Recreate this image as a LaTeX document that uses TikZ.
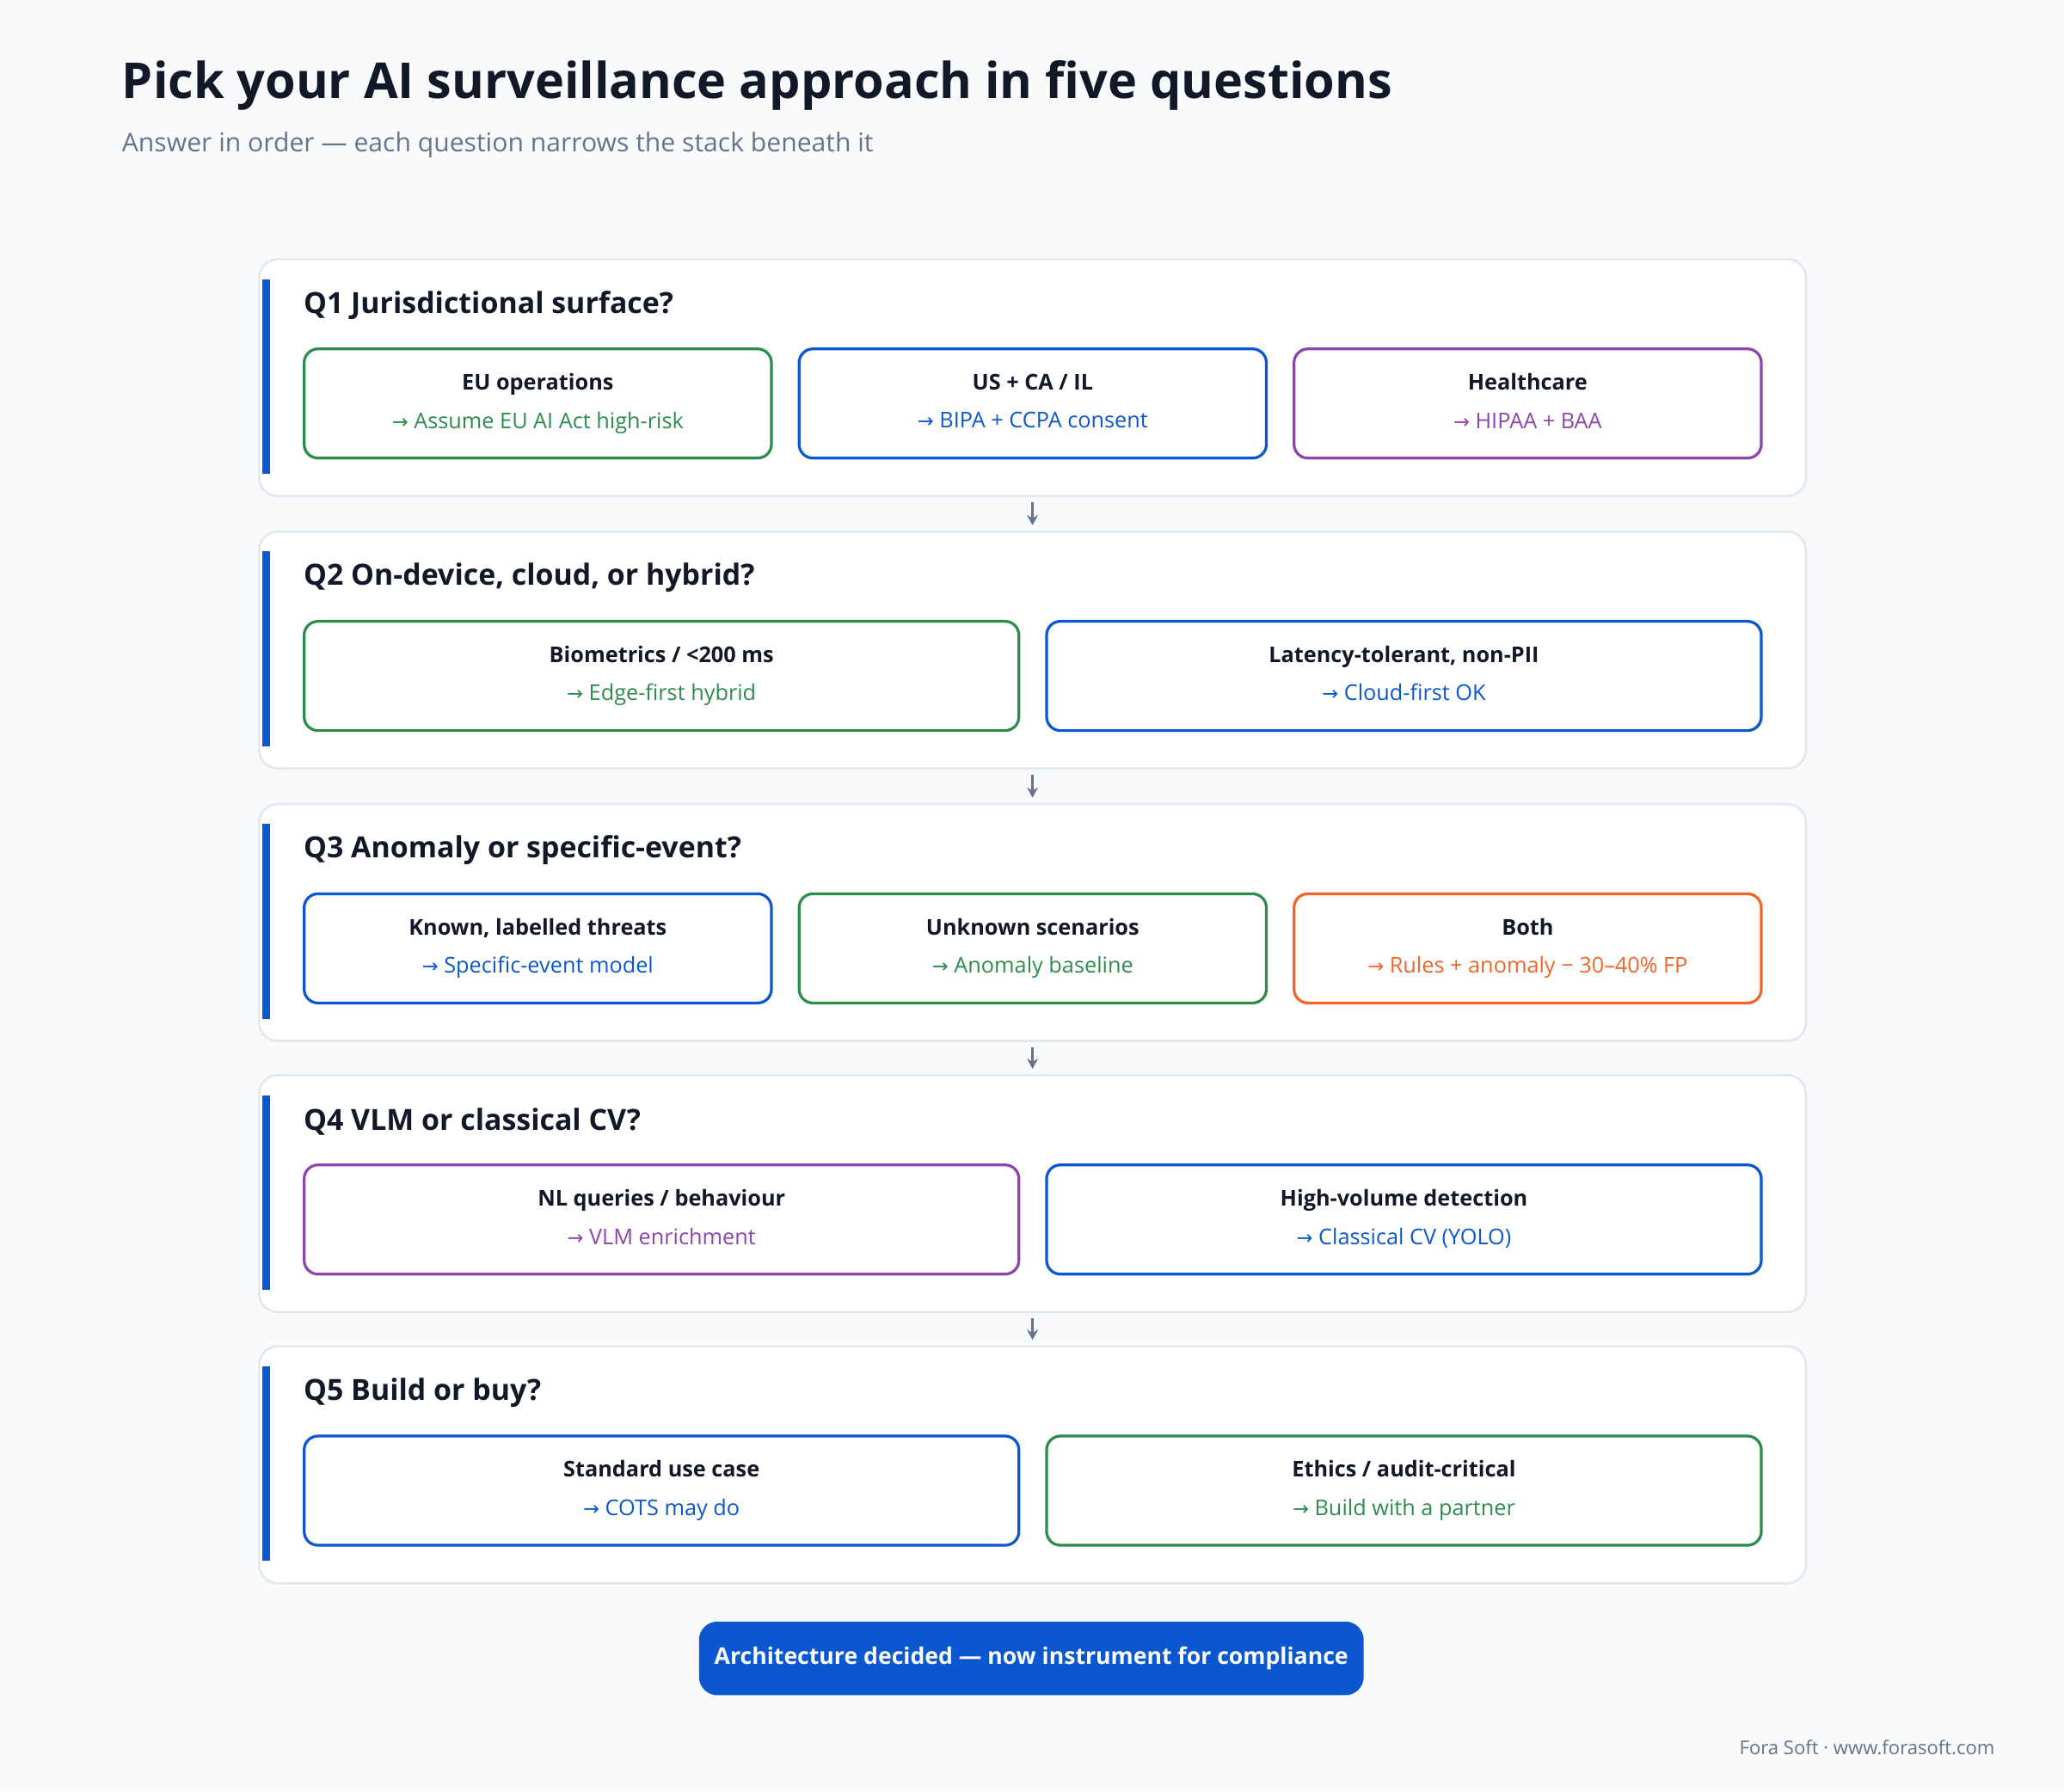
\documentclass[tikz,border=0pt]{standalone}
\usepackage{fontspec}
\setmainfont{Open Sans}
\newfontfamily\symfont{DejaVu Sans}
\usetikzlibrary{positioning,arrows.meta}
\definecolor{ink}{HTML}{111827}
\definecolor{muted}{HTML}{64748B}
\definecolor{rim}{HTML}{E2E8F0}
\definecolor{paper}{HTML}{F8FAFC}
\definecolor{qblue}{HTML}{0B57D0}
\definecolor{qgreen}{HTML}{2E8B4E}
\definecolor{qpurple}{HTML}{8E44AD}
\definecolor{qorange}{HTML}{F0652A}
\newcommand{\opt}[3]{{\bfseries\color{ink}\vphantom{Ayp}#1}\\{\color{#3}\vphantom{Ayp}{\symfont\fontsize{4.2}{8}\selectfont→}\ #2}}
\begin{document}
\begin{tikzpicture}[
            panel/.style={rectangle, draw=rim, line width=0.5pt, fill=white, rounded corners=4pt,
              minimum width=11.75cm, minimum height=1.80cm, anchor=north west, inner sep=0pt},
            qbar/.style={fill=qblue},
            qtitle/.style={anchor=west, font=\bfseries\fontsize{6.3}{7.5}\selectfont, text=ink, inner sep=0pt},
            option/.style={rectangle, draw=#1, line width=0.6pt, rounded corners=3pt, fill=white,
              minimum height=0.83cm, anchor=north west, inner sep=0pt, align=center,
              font=\fontsize{4.7}{8.3}\selectfont},
            three/.style={minimum width=3.55cm},
            two/.style={minimum width=5.43cm},
            flow/.style={-{Stealth[length=2.2pt,width=2.4pt]}, draw=muted, line width=0.5pt}
          ]

          % background and frame
          \fill[paper] (0,0) rectangle (15.68,-13.61);
          \useasboundingbox (0,0) rectangle (15.68,-13.61);

          % heading
          \node[anchor=west, inner sep=0pt, text=ink, font=\bfseries\fontsize{10.7}{13}\selectfont] (title) at (0.92,-0.65) {Pick your AI surveillance approach in five questions};
          \node[anchor=west, inner sep=0pt, text=muted, font=\fontsize{5.6}{7}\selectfont] (subtitle) at (0.92,-1.10) {Answer in order — each question narrows the stack beneath it};

          % panels
          \node[panel] (q1) at (1.96,-1.96) {};
          \node[panel] (q2) at (1.96,-4.03) {};
          \node[panel] (q3) at (1.96,-6.10) {};
          \node[panel] (q4) at (1.96,-8.16) {};
          \node[panel] (q5) at (1.96,-10.22) {};

          % accent bars
          \fill[qbar] (1.99,-2.12) rectangle (2.05,-3.60);
          \fill[qbar] (1.99,-4.19) rectangle (2.05,-5.67);
          \fill[qbar] (1.99,-6.26) rectangle (2.05,-7.74);
          \fill[qbar] (1.99,-8.32) rectangle (2.05,-9.80);
          \fill[qbar] (1.99,-10.38) rectangle (2.05,-11.86);

          % question titles
          \node[qtitle] (t1) at (2.30,-2.32) {Q1 Jurisdictional surface?};
          \node[qtitle] (t2) at (2.30,-4.39) {Q2 On-device, cloud, or hybrid?};
          \node[qtitle] (t3) at (2.30,-6.46) {Q3 Anomaly or specific-event?};
          \node[qtitle] (t4) at (2.30,-8.52) {Q4 VLM or classical CV?};
          \node[qtitle] (t5) at (2.30,-10.58) {Q5 Build or buy?};

          % Q1 options
          \node[option=qgreen, three] (q1a) at (2.30,-2.64) {\opt{EU operations}{Assume EU AI Act high-risk}{qgreen}};
          \node[option=qblue, three] (q1b) at (6.06,-2.64) {\opt{US + CA / IL}{BIPA + CCPA consent}{qblue}};
          \node[option=qpurple, three] (q1c) at (9.82,-2.64) {\opt{Healthcare}{HIPAA + BAA}{qpurple}};

          % Q2 options
          \node[option=qgreen, two] (q2a) at (2.30,-4.71) {\opt{Biometrics / <200 ms}{Edge-first hybrid}{qgreen}};
          \node[option=qblue, two] (q2b) at (7.94,-4.71) {\opt{Latency-tolerant, non-PII}{Cloud-first OK}{qblue}};

          % Q3 options
          \node[option=qblue, three] (q3a) at (2.30,-6.78) {\opt{Known, labelled threats}{Specific-event model}{qblue}};
          \node[option=qgreen, three] (q3b) at (6.06,-6.78) {\opt{Unknown scenarios}{Anomaly baseline}{qgreen}};
          \node[option=qorange, three] (q3c) at (9.82,-6.78) {\opt{Both}{Rules + anomaly − 30–40\% FP}{qorange}};

          % Q4 options
          \node[option=qpurple, two] (q4a) at (2.30,-8.84) {\opt{NL queries / behaviour}{VLM enrichment}{qpurple}};
          \node[option=qblue, two] (q4b) at (7.94,-8.84) {\opt{High-volume detection}{Classical CV (YOLO)}{qblue}};

          % Q5 options
          \node[option=qblue, two] (q5a) at (2.30,-10.90) {\opt{Standard use case}{COTS may do}{qblue}};
          \node[option=qgreen, two] (q5b) at (7.94,-10.90) {\opt{Ethics / audit-critical}{Build with a partner}{qgreen}};

          % flow between panels
          \draw[flow, shorten <=0.04cm, shorten >=0.04cm] (q1.south) -- (q2.north);
          \draw[flow, shorten <=0.04cm, shorten >=0.04cm] (q2.south) -- (q3.north);
          \draw[flow, shorten <=0.04cm, shorten >=0.04cm] (q3.south) -- (q4.north);
          \draw[flow, shorten <=0.04cm, shorten >=0.04cm] (q4.south) -- (q5.north);

          % result and footer
          \node[rectangle, fill=qblue, rounded corners=4pt, minimum width=4.95cm, minimum height=0.56cm,
            text=white, font=\bfseries\fontsize{4.95}{6}\selectfont] (done) at (7.835,-12.60) {Architecture decided — now instrument for compliance};
          \node[anchor=east, inner sep=0pt, text=muted, font=\fontsize{4.1}{5}\selectfont] (footer) at (15.16,-13.28) {Fora Soft · www.forasoft.com};

        \end{tikzpicture}
\end{document}
